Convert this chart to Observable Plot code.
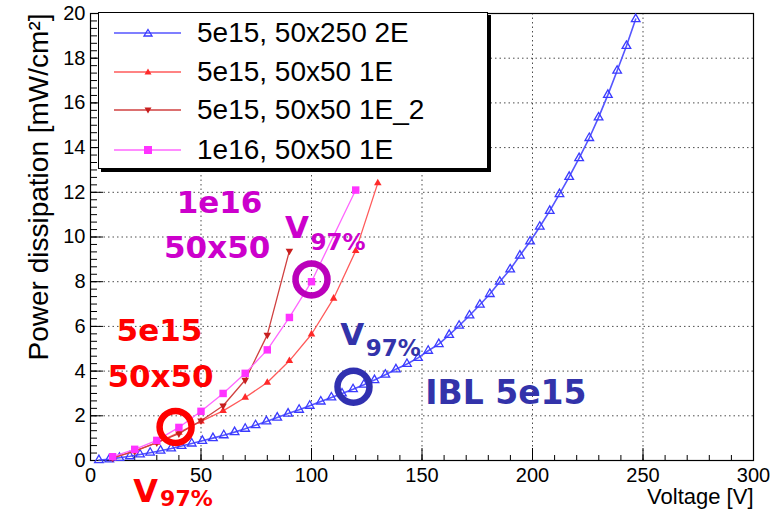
<!DOCTYPE html>
<html><head><meta charset="utf-8">
<script src="https://cdn.jsdelivr.net/npm/d3@7"></script>
<script src="https://cdn.jsdelivr.net/npm/@observablehq/plot@0.6"></script>
<style>
body{margin:0;background:#fff;}
#wrap{position:relative;width:774px;height:513px;font-family:"Liberation Sans",Arial,sans-serif;}
#legend{position:absolute;left:98px;top:12px;width:388px;height:155px;background:#fff;border:1px solid #000;box-shadow:3px 3px 0 #000;}
#legend .row{position:absolute;left:0;height:36px;display:flex;align-items:center;}
#legend .row span{font-size:28px;color:#000;margin-left:14px;white-space:nowrap;}
</style></head><body><div id="wrap"></div>
<script>
// ---- data ----
const seriesNames = ["5e15, 50x250 2E", "5e15, 50x50 1E", "5e15, 50x50 1E_2", "1e16, 50x50 1E"];
const blueV = [3.8,8.5,13.1,17.8,22.4,27.0,31.7,36.5,41.2,45.8,50.6,55.4,60.3,65.2,70.0,74.7,79.6,84.5,89.4,94.4,99.2,104.2,109.0,113.8,118.8,123.7,128.5,133.4,138.2,143.2,148.2,152.8,157.6,162.3,166.8,171.5,176.2,180.7,185.2,189.9,194.3,198.9,203.3,207.8,212.2,216.6,221.1,225.7,229.9,234.1,238.3,242.5,246.7];
const blueP = [0.02,0.05,0.12,0.19,0.27,0.35,0.44,0.54,0.65,0.76,0.88,1.0,1.13,1.27,1.42,1.58,1.75,1.92,2.10,2.27,2.45,2.64,2.82,3.0,3.19,3.39,3.60,3.84,4.08,4.32,4.59,4.91,5.21,5.62,6.03,6.49,6.97,7.45,8.0,8.55,9.17,9.80,10.46,11.17,11.92,12.69,13.53,14.43,15.35,16.36,17.44,18.55,19.75];
const red1V = [10,20,30,40,50,60,70,80,90,100,110,120,130];
const red1P = [0.12,0.42,0.8,1.25,1.75,2.22,2.82,3.49,4.46,5.65,7.25,9.38,12.41];
const red2V = [10,20,30,40,50,60,70,80,90];
const red2P = [0.12,0.42,0.8,1.2,1.78,2.45,3.6,5.62,9.38];
const magV = [10,20,30,40,50,60,70,80,90,100,120];
const magP = [0.17,0.5,0.9,1.48,2.2,3.0,3.9,4.95,6.4,8.0,12.1];
const xTicks = [0,50,100,150,200,250,300];
const yTicks = [0,2,4,6,8,10,12,14,16,18,20];
const v97V = [38.5, 100, 119];
const v97P = [1.5, 8.1, 3.3];

const colors = {blue:"#3a3aff", red1:"#ff2a2a", red2:"#c81e1e", mag:"#ff33ff"};
const lineColors = {blue:"#5555ff", red1:"#ff5a5a", red2:"#d04040", mag:"#ff66ff"};

const toRows = (V, P) => V.map((v, i) => ({V: v, P: P[i]}));
const blue = toRows(blueV, blueP), red1 = toRows(red1V, red1P), red2 = toRows(red2V, red2P), mag = toRows(magV, magP);
const xMinor = d3.range(0, 301, 10), yMinor = d3.range(0, 61).map(i => i / 3);
const rings = [{V: v97V[0], P: v97P[0], c: "#ff0000"}, {V: v97V[1], P: v97P[1], c: "#bb00bb"}, {V: v97V[2], P: v97P[2], c: "#3030b0"}];

const annoFont = "DejaVu Sans";
const plot = Plot.plot({
  width: 774, height: 513,
  marginLeft: 90, marginRight: 21, marginTop: 13, marginBottom: 53,
  style: {fontFamily: "Liberation Sans, Arial, sans-serif", fontSize: "20px", background: "#fff", overflow: "visible"},
  x: {domain: [0, 300]},
  y: {domain: [0, 20]},
  marks: [
    Plot.gridX(xTicks, {stroke: "#000", strokeOpacity: 0.7, strokeDasharray: "1.5,3"}),
    Plot.gridY(yTicks, {stroke: "#000", strokeOpacity: 0.7, strokeDasharray: "1.5,3"}),
    Plot.axisX(xMinor, {anchor: "top", frameAnchor: "bottom", tickSize: 6, tickFormat: () => "", label: null}),
    Plot.axisX(xTicks, {anchor: "top", frameAnchor: "bottom", tickSize: 13, tickFormat: () => "", label: null}),
    Plot.axisY(yMinor, {anchor: "right", frameAnchor: "left", tickSize: 6, tickFormat: () => "", label: null}),
    Plot.axisY(yTicks, {anchor: "right", frameAnchor: "left", tickSize: 12, tickFormat: () => "", label: null}),
    Plot.axisX(xTicks, {tickSize: 0, tickPadding: 7, label: null, fontSize: 20}),
    Plot.axisY(yTicks, {tickSize: 0, tickPadding: 5, label: null, fontSize: 20}),
    Plot.frame({stroke: "#000", strokeWidth: 1.2}),
    Plot.line(blue, {x: "V", y: "P", stroke: lineColors.blue, strokeWidth: 1.6}),
    Plot.dot(blue, {x: "V", y: "P", symbol: "triangle", r: 3.2, stroke: colors.blue, strokeWidth: 1.3, fill: "none"}),
    Plot.line(red1, {x: "V", y: "P", stroke: lineColors.red1, strokeWidth: 1.3}),
    Plot.dot(red1, {x: "V", y: "P", symbol: "triangle", r: 2.8, fill: colors.red1, stroke: "none"}),
    Plot.line(red2, {x: "V", y: "P", stroke: lineColors.red2, strokeWidth: 1.3}),
    Plot.dot(red2, {x: "V", y: "P", symbol: "triangle", rotate: 180, r: 2.8, fill: colors.red2, stroke: "none"}),
    Plot.line(mag, {x: "V", y: "P", stroke: lineColors.mag, strokeWidth: 1.3}),
    Plot.dot(mag, {x: "V", y: "P", symbol: "square", r: 4.2, fill: colors.mag, stroke: "none"}),
    Plot.dot(rings, {x: "V", y: "P", r: 16, stroke: "c", strokeWidth: 6.5, fill: "none"}),
    // annotations
    Plot.text(["1e16"], {x: 58.4, y: 11.5, fill: "#cc00cc", fontFamily: annoFont, fontWeight: "bold", fontSize: 31}),
    Plot.text(["50x50"], {x: 57.3, y: 9.5, fill: "#cc00cc", fontFamily: annoFont, fontWeight: "bold", fontSize: 31}),
    Plot.text(["V"], {x: 88, y: 10.4, textAnchor: "start", fill: "#cc00cc", fontFamily: annoFont, fontWeight: "bold", fontSize: 31}),
    Plot.text(["97%"], {x: 99.5, y: 9.76, textAnchor: "start", fill: "#cc00cc", fontFamily: annoFont, fontWeight: "bold", fontSize: 23}),
    Plot.text(["5e15"], {x: 31.2, y: 5.8, fill: "#ff0000", fontFamily: annoFont, fontWeight: "bold", fontSize: 31}),
    Plot.text(["50x50"], {x: 31.7, y: 3.75, fill: "#ff0000", fontFamily: annoFont, fontWeight: "bold", fontSize: 31}),
    Plot.text(["V"], {x: 19.3, y: -1.4, textAnchor: "start", fill: "#ff0000", fontFamily: annoFont, fontWeight: "bold", fontSize: 32}),
    Plot.text(["97%"], {x: 31.5, y: -1.72, textAnchor: "start", fill: "#ff0000", fontFamily: annoFont, fontWeight: "bold", fontSize: 22}),
    Plot.text(["V"], {x: 113, y: 5.6, textAnchor: "start", fill: "#3333aa", fontFamily: annoFont, fontWeight: "bold", fontSize: 31}),
    Plot.text(["97%"], {x: 124.5, y: 5.0, textAnchor: "start", fill: "#3333aa", fontFamily: annoFont, fontWeight: "bold", fontSize: 23}),
    Plot.text(["IBL 5e15"], {x: 151.5, y: 3.0, textAnchor: "start", fill: "#3333aa", fontFamily: annoFont, fontWeight: "bold", fontSize: 33}),
    // axis titles
    Plot.text(["Voltage [V]"], {frameAnchor: "bottom-right", textAnchor: "end", dy: 43, fontSize: 22}),
    Plot.text(["Power dissipation [mW/cm²]"], {frameAnchor: "top-left", textAnchor: "end", rotate: -90, dx: -62, dy: 0, fontSize: 28})
  ]
});
const wrap = document.getElementById("wrap");
wrap.appendChild(plot);

// legend
const leg = document.createElement("div");
leg.id = "legend";
const legendSpec = [
  {name: seriesNames[0], line: lineColors.blue, mark: colors.blue, sym: "tri-open"},
  {name: seriesNames[1], line: lineColors.red1, mark: colors.red1, sym: "tri"},
  {name: seriesNames[2], line: lineColors.red2, mark: colors.red2, sym: "tri-down"},
  {name: seriesNames[3], line: lineColors.mag, mark: colors.mag, sym: "square"}
];
const rowCenters = [20, 59, 97, 137];
legendSpec.forEach((s, i) => {
  const row = document.createElement("div");
  row.className = "row";
  row.style.top = (rowCenters[i] - 18) + "px";
  let m;
  if (s.sym === "tri-open") m = `<path d="M49,14.5 L53,21 L45,21 Z" fill="none" stroke="${s.mark}" stroke-width="1.3"/>`;
  else if (s.sym === "tri") m = `<path d="M49,14.5 L52.5,20.5 L45.5,20.5 Z" fill="${s.mark}"/>`;
  else if (s.sym === "tri-down") m = `<path d="M49,21.5 L52.5,15.5 L45.5,15.5 Z" fill="${s.mark}"/>`;
  else m = `<rect x="45" y="14" width="8" height="8" fill="${s.mark}"/>`;
  row.innerHTML = `<svg width="84" height="36" style="margin-left:0"><line x1="15" x2="82" y1="18" y2="18" stroke="${s.line}" stroke-width="1.5"/>${m}</svg><span>${s.name}</span>`;
  leg.appendChild(row);
});
wrap.appendChild(leg);
</script></body></html>
